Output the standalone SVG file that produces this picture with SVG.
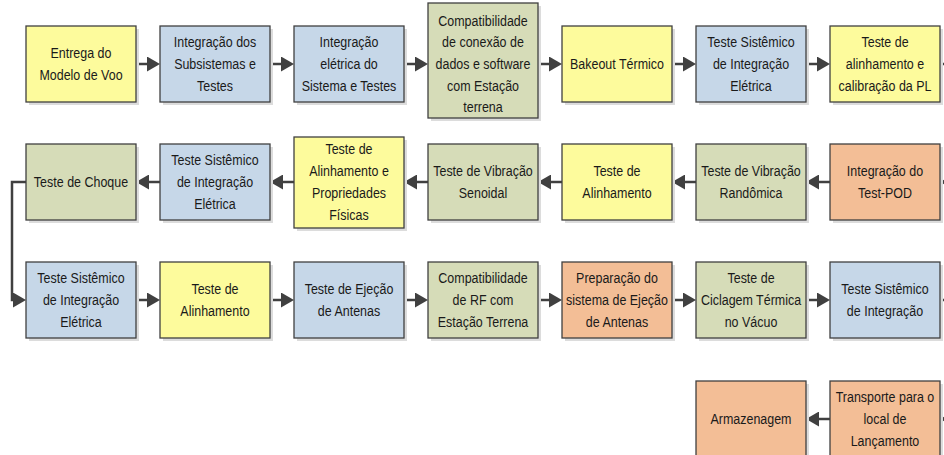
<svg xmlns="http://www.w3.org/2000/svg" width="944" height="455" viewBox="0 0 944 455">
<style>
.sh{fill:#dcdcdc}
.b{stroke:#404040;stroke-width:1.3}
.y{fill:#fdfb9c}
.bl{fill:#c6d7e8}
.g{fill:#d6dcb8}
.o{fill:#f3be96}
text{font-family:"Liberation Sans",Arial,sans-serif;font-size:14.5px;fill:#1a1a1a;text-anchor:middle;transform-box:fill-box;transform-origin:center;transform:scaleX(0.86)}
.c{fill:none;stroke:#404040;stroke-width:2.5}
</style>
<defs>
<marker id="ah" markerUnits="userSpaceOnUse" markerWidth="13" markerHeight="15" refX="3" refY="7.5" orient="auto">
<path d="M0,0 L13,7.5 L0,15 Z" fill="#404040"/>
</marker>
</defs>
<rect width="944" height="455" fill="#ffffff"/>
<g id="connectors">
<path class="c" marker-end="url(#ah)" d="M136,64 H150"/>
<path class="c" marker-end="url(#ah)" d="M270,64 H284"/>
<path class="c" marker-end="url(#ah)" d="M404,64 H418"/>
<path class="c" marker-end="url(#ah)" d="M538,64 H552"/>
<path class="c" marker-end="url(#ah)" d="M672,64 H686"/>
<path class="c" marker-end="url(#ah)" d="M806,64 H820"/>
<path class="c" marker-end="url(#ah)" d="M940,64 H956 V182 H950"/>
<path class="c" marker-end="url(#ah)" d="M830,182 H816"/>
<path class="c" marker-end="url(#ah)" d="M696,182 H682"/>
<path class="c" marker-end="url(#ah)" d="M562,182 H548"/>
<path class="c" marker-end="url(#ah)" d="M428,182 H414"/>
<path class="c" marker-end="url(#ah)" d="M294,182 H280"/>
<path class="c" marker-end="url(#ah)" d="M160,182 H146"/>
<path class="c" marker-end="url(#ah)" d="M26,182 H12 V300 H16"/>
<path class="c" marker-end="url(#ah)" d="M136,300 H150"/>
<path class="c" marker-end="url(#ah)" d="M270,300 H284"/>
<path class="c" marker-end="url(#ah)" d="M404,300 H418"/>
<path class="c" marker-end="url(#ah)" d="M538,300 H552"/>
<path class="c" marker-end="url(#ah)" d="M672,300 H686"/>
<path class="c" marker-end="url(#ah)" d="M806,300 H820"/>
<path class="c" marker-end="url(#ah)" d="M940,300 H956 V419 H950"/>
<path class="c" marker-end="url(#ah)" d="M830,419 H816"/>
</g>
<g id="n1"><rect class="sh" x="29" y="29" width="110" height="76"/><rect class="b y" x="26" y="26" width="110" height="76"/><text x="81" y="58">Entrega do<tspan x="81" dy="21.7">Modelo de Voo</tspan></text></g>
<g id="n2"><rect class="sh" x="163" y="29" width="110" height="76"/><rect class="b bl" x="160" y="26" width="110" height="76"/><text x="215" y="47.3">Integração dos<tspan x="215" dy="21.7">Subsistemas e</tspan><tspan x="215" dy="21.7">Testes</tspan></text></g>
<g id="n3"><rect class="sh" x="297" y="29" width="110" height="76"/><rect class="b bl" x="294" y="26" width="110" height="76"/><text x="349" y="47.3">Integração<tspan x="349" dy="21.7">elétrica do</tspan><tspan x="349" dy="21.7">Sistema e Testes</tspan></text></g>
<g id="n4"><rect class="sh" x="431" y="6" width="110" height="115"/><rect class="b g" x="428" y="3" width="110" height="115"/><text x="483" y="25.6">Compatibilidade<tspan x="483" dy="21.7">de conexão de</tspan><tspan x="483" dy="21.7">dados e software</tspan><tspan x="483" dy="21.7">com Estação</tspan><tspan x="483" dy="21.7">terrena</tspan></text></g>
<g id="n5"><rect class="sh" x="565" y="29" width="110" height="76"/><rect class="b y" x="562" y="26" width="110" height="76"/><text x="617" y="69">Bakeout Térmico</text></g>
<g id="n6"><rect class="sh" x="699" y="29" width="110" height="76"/><rect class="b bl" x="696" y="26" width="110" height="76"/><text x="751" y="47.3">Teste Sistêmico<tspan x="751" dy="21.7">de Integração</tspan><tspan x="751" dy="21.7">Elétrica</tspan></text></g>
<g id="n7"><rect class="sh" x="833" y="29" width="110" height="76"/><rect class="b y" x="830" y="26" width="110" height="76"/><text x="885" y="47.3">Teste de<tspan x="885" dy="21.7">alinhamento e</tspan><tspan x="885" dy="21.7">calibração da PL</tspan></text></g>
<g id="n8"><rect class="sh" x="833" y="147" width="110" height="76"/><rect class="b o" x="830" y="144" width="110" height="76"/><text x="885" y="176">Integração do<tspan x="885" dy="21.7">Test-POD</tspan></text></g>
<g id="n9"><rect class="sh" x="699" y="147" width="110" height="76"/><rect class="b g" x="696" y="144" width="110" height="76"/><text x="751" y="176">Teste de Vibração<tspan x="751" dy="21.7">Randômica</tspan></text></g>
<g id="n10"><rect class="sh" x="565" y="147" width="110" height="76"/><rect class="b y" x="562" y="144" width="110" height="76"/><text x="617" y="176">Teste de<tspan x="617" dy="21.7">Alinhamento</tspan></text></g>
<g id="n11"><rect class="sh" x="431" y="147" width="110" height="76"/><rect class="b g" x="428" y="144" width="110" height="76"/><text x="483" y="176">Teste de Vibração<tspan x="483" dy="21.7">Senoidal</tspan></text></g>
<g id="n12"><rect class="sh" x="297" y="140" width="110" height="91"/><rect class="b y" x="294" y="137" width="110" height="91"/><text x="349" y="154.5">Teste de<tspan x="349" dy="21.7">Alinhamento e</tspan><tspan x="349" dy="21.7">Propriedades</tspan><tspan x="349" dy="21.7">Físicas</tspan></text></g>
<g id="n13"><rect class="sh" x="163" y="147" width="110" height="76"/><rect class="b bl" x="160" y="144" width="110" height="76"/><text x="215" y="165.3">Teste Sistêmico<tspan x="215" dy="21.7">de Integração</tspan><tspan x="215" dy="21.7">Elétrica</tspan></text></g>
<g id="n14"><rect class="sh" x="29" y="147" width="110" height="76"/><rect class="b g" x="26" y="144" width="110" height="76"/><text x="81" y="187">Teste de Choque</text></g>
<g id="n15"><rect class="sh" x="29" y="265" width="110" height="76"/><rect class="b bl" x="26" y="262" width="110" height="76"/><text x="81" y="283.3">Teste Sistêmico<tspan x="81" dy="21.7">de Integração</tspan><tspan x="81" dy="21.7">Elétrica</tspan></text></g>
<g id="n16"><rect class="sh" x="163" y="265" width="110" height="76"/><rect class="b y" x="160" y="262" width="110" height="76"/><text x="215" y="294">Teste de<tspan x="215" dy="21.7">Alinhamento</tspan></text></g>
<g id="n17"><rect class="sh" x="297" y="265" width="110" height="76"/><rect class="b bl" x="294" y="262" width="110" height="76"/><text x="349" y="294">Teste de Ejeção<tspan x="349" dy="21.7">de Antenas</tspan></text></g>
<g id="n18"><rect class="sh" x="431" y="265" width="110" height="76"/><rect class="b g" x="428" y="262" width="110" height="76"/><text x="483" y="283.3">Compatibilidade<tspan x="483" dy="21.7">de RF com</tspan><tspan x="483" dy="21.7">Estação Terrena</tspan></text></g>
<g id="n19"><rect class="sh" x="565" y="265" width="110" height="76"/><rect class="b o" x="562" y="262" width="110" height="76"/><text x="617" y="283.3">Preparação do<tspan x="617" dy="21.7">sistema de Ejeção</tspan><tspan x="617" dy="21.7">de Antenas</tspan></text></g>
<g id="n20"><rect class="sh" x="699" y="265" width="110" height="76"/><rect class="b g" x="696" y="262" width="110" height="76"/><text x="751" y="283.3">Teste de<tspan x="751" dy="21.7">Ciclagem Térmica</tspan><tspan x="751" dy="21.7">no Vácuo</tspan></text></g>
<g id="n21"><rect class="sh" x="833" y="265" width="110" height="76"/><rect class="b bl" x="830" y="262" width="110" height="76"/><text x="885" y="294">Teste Sistêmico<tspan x="885" dy="21.7">de Integração</tspan></text></g>
<g id="n22"><rect class="sh" x="833" y="384" width="110" height="76"/><rect class="b o" x="830" y="381" width="110" height="76"/><text x="885" y="402.3">Transporte para o<tspan x="885" dy="21.7">local de</tspan><tspan x="885" dy="21.7">Lançamento</tspan></text></g>
<g id="n23"><rect class="sh" x="699" y="384" width="110" height="76"/><rect class="b o" x="696" y="381" width="110" height="76"/><text x="751" y="424">Armazenagem</text></g>
</svg>
